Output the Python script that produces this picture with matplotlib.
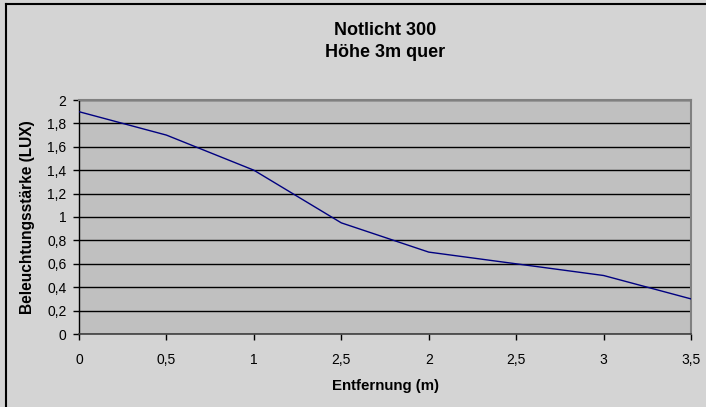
import matplotlib
matplotlib.use("Agg")
import matplotlib.pyplot as plt
from matplotlib.lines import Line2D

plt.rcParams['font.family'] = ['Liberation Sans', 'DejaVu Sans']

# Daten aus dem Diagramm
entfernung_labels = ["0", "0,5", "1", "2,5", "2", "2,5", "3", "3,5"]
lux_werte = [1.9, 1.7, 1.4, 0.95, 0.7, 0.6, 0.5, 0.3]
y_ticks = [0, 0.2, 0.4, 0.6, 0.8, 1.0, 1.2, 1.4, 1.6, 1.8, 2.0]
y_tick_labels = ["0", "0,2", "0,4", "0,6", "0,8", "1", "1,2", "1,4", "1,6", "1,8", "2"]

W, H = 706, 407
fig = plt.figure(figsize=(W / 100, H / 100), dpi=100)
fig.patch.set_facecolor("#d4d4d4")

# Rahmen um das Diagramm (nur links und oben im Bild)
fig.lines.append(Line2D([6 / W, 6 / W], [0, 1 - 4 / H], transform=fig.transFigure,
                        color="black", linewidth=1.5))
fig.lines.append(Line2D([6 / W, 1], [1 - 4 / H, 1 - 4 / H], transform=fig.transFigure,
                        color="black", linewidth=1.5))

ax = fig.add_axes([79 / W, (H - 334) / H, (691 - 79) / W, (334 - 100) / H])
ax.set_facecolor("#c0c0c0")

x = list(range(len(lux_werte)))
ax.plot(x, lux_werte, color="#000080", linewidth=1.0, zorder=3)

ax.set_xlim(0, len(lux_werte) - 1)
ax.set_ylim(0, 2)
ax.set_xticks(x)
ax.set_xticklabels(entfernung_labels, fontsize=10)
ax.set_yticks(y_ticks)
ax.set_yticklabels(y_tick_labels, fontsize=10)

ax.yaxis.grid(True, color="black", linewidth=1.0)
ax.set_axisbelow(True)

for side in ["top", "right"]:
    ax.spines[side].set_color("#808080")
    ax.spines[side].set_linewidth(1.5)
ax.spines["bottom"].set_color("#404040")
ax.spines["bottom"].set_linewidth(1.2)
ax.spines["left"].set_color("black")
ax.spines["left"].set_linewidth(1.0)

ax.tick_params(axis="both", direction="out", length=4, width=1)
ax.tick_params(axis="y", pad=5)
ax.tick_params(axis="x", pad=10)

ax.set_xlabel("Entfernung (m)", fontsize=10.8, fontweight="bold", labelpad=8)
ax.set_ylabel("Beleuchtungsstärke (LUX)", fontsize=11.2, fontweight="bold", labelpad=9)

fig.text(385 / W, 1 - 35 / H, "Notlicht 300", ha="center", va="baseline",
         fontsize=13, fontweight="bold")
fig.text(385 / W, 1 - 57 / H, "Höhe 3m quer", ha="center", va="baseline",
         fontsize=13, fontweight="bold")

fig.savefig("out.png", dpi=100, facecolor=fig.get_facecolor())
